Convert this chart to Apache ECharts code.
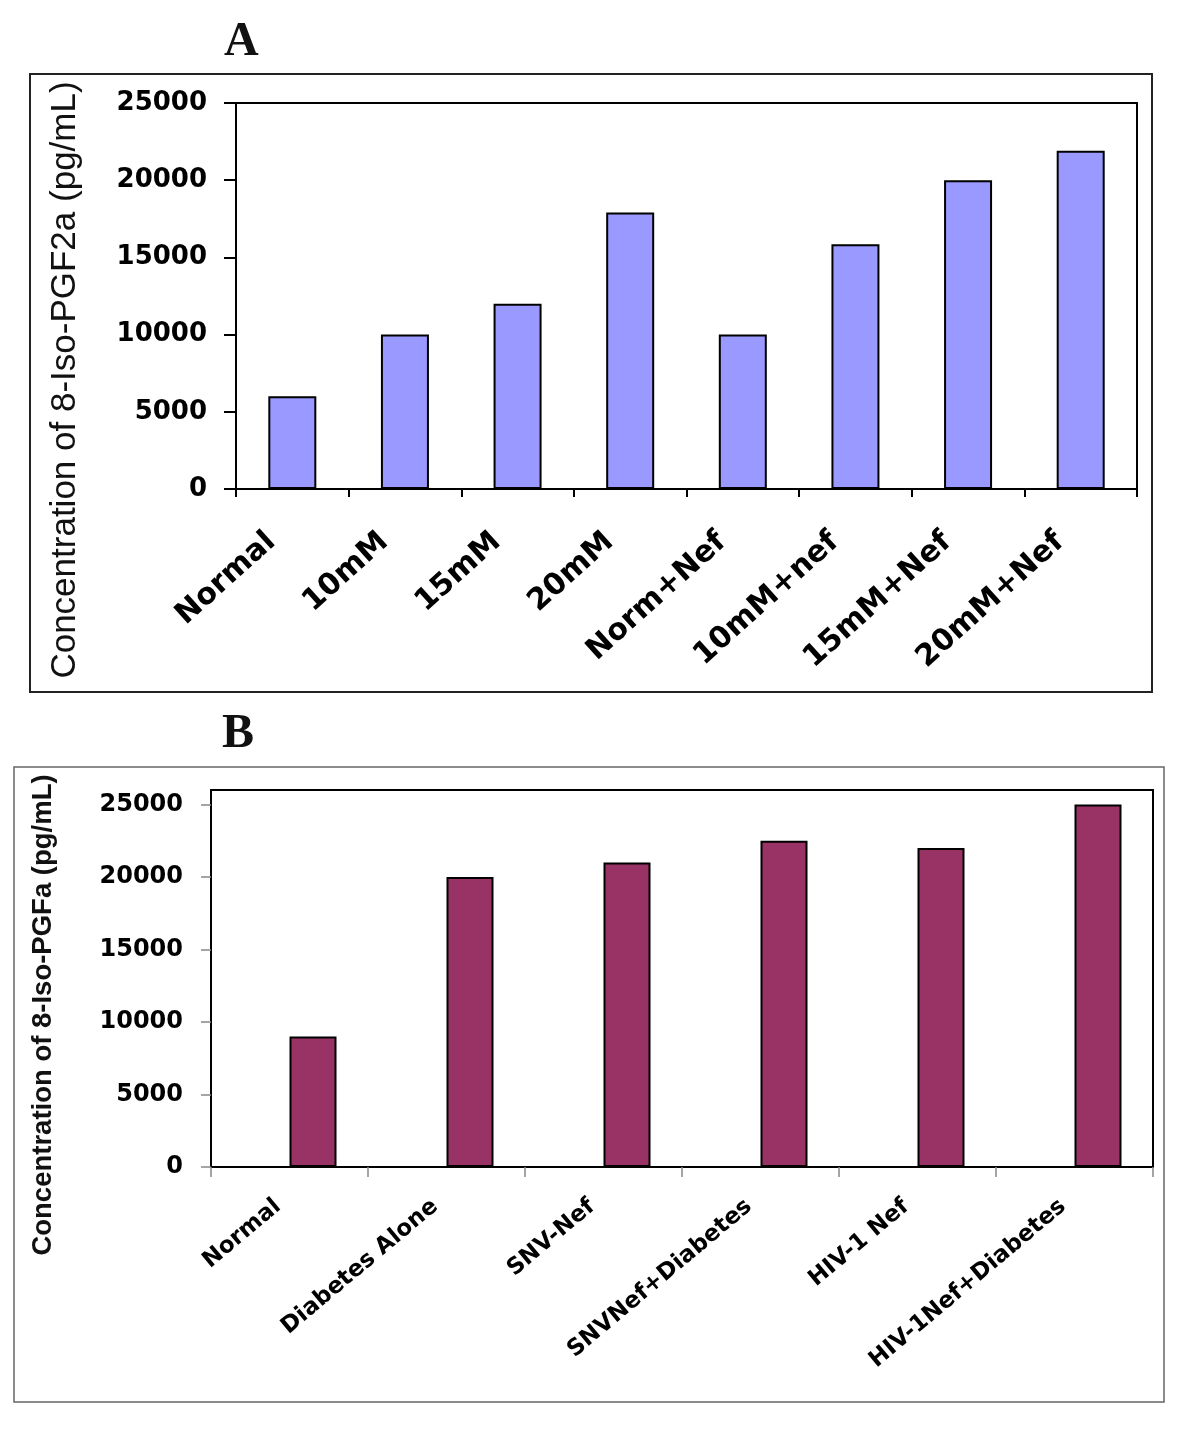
<!DOCTYPE html>
<html>
<head>
<meta charset="utf-8">
<script src="https://cdn.jsdelivr.net/npm/echarts@6/dist/echarts.min.js"></script>
<style>
html,body{margin:0;padding:0;background:#fff;}
#main{width:1200px;height:1432px;}
</style>
</head>
<body>
<div id="main"></div>
<script>
// ---- Panel A data ----
const categoriesA = ['Normal', '10mM', '15mM', '20mM', 'Norm+Nef', '10mM+nef', '15mM+Nef', '20mM+Nef'];
const valuesA = [6000, 10000, 12000, 17900, 10000, 15850, 20000, 21900];
const yTicksA = [0, 5000, 10000, 15000, 20000, 25000];
const yTitleA = 'Concentration of 8-Iso-PGF2a (pg/mL)';

// ---- Panel B data ----
const categoriesB = ['Normal', 'Diabetes Alone', 'SNV-Nef', 'SNVNef+Diabetes', 'HIV-1 Nef', 'HIV-1Nef+Diabetes'];
const blankSeriesB = [null, null, null, null, null, null]; // empty first series of the original clustered chart
const valuesB = [9000, 20000, 21000, 22500, 22000, 25000];
const yTicksB = [0, 5000, 10000, 15000, 20000, 25000];
const yTitleB = 'Concentration of 8-Iso-PGFa (pg/mL)';

const plain = v => String(v);

const chart = echarts.init(document.getElementById('main'), null, {renderer: 'canvas'});

const option = {
  animation: false,
  backgroundColor: '#ffffff',
  title: [
    {text: 'A', left: 224, top: 19, padding: 0,
     textStyle: {fontFamily: 'Liberation Serif', fontWeight: 'bold', fontSize: 48, color: '#111'}},
    {text: 'B', left: 222, top: 711, padding: 0,
     textStyle: {fontFamily: 'Liberation Serif', fontWeight: 'bold', fontSize: 48, color: '#111'}}
  ],
  graphic: [
    {type: 'rect', shape: {x: 30, y: 74, width: 1122, height: 618},
     style: {fill: 'none', stroke: '#222', lineWidth: 2}, silent: true},
    {type: 'rect', shape: {x: 14, y: 767, width: 1150, height: 635},
     style: {fill: 'none', stroke: '#666', lineWidth: 1.5}, silent: true},
    {type: 'text', x: 65, y: 380, rotation: Math.PI / 2,
     style: {text: yTitleA, fontFamily: 'Liberation Sans', fontSize: 35, fill: '#111',
             align: 'center', verticalAlign: 'middle'}},
    {type: 'text', x: 43, y: 1015, rotation: Math.PI / 2,
     style: {text: yTitleB, fontFamily: 'Liberation Sans', fontWeight: 'bold', fontSize: 27.5, fill: '#111',
             align: 'center', verticalAlign: 'middle'}}
  ],
  grid: [
    {left: 236, top: 103, right: 63, bottom: 943, show: true, borderColor: '#000', borderWidth: 2,
     backgroundColor: 'transparent', containLabel: false},
    {left: 211, top: 790, right: 47, bottom: 265, show: true, borderColor: '#000', borderWidth: 2,
     backgroundColor: 'transparent', containLabel: false}
  ],
  xAxis: [
    {type: 'category', gridIndex: 0, data: categoriesA, boundaryGap: true,
     axisLine: {show: true, lineStyle: {color: '#000', width: 2}},
     axisTick: {show: true, alignWithLabel: false, inside: false, length: 8, lineStyle: {color: '#000', width: 2}},
     axisLabel: {interval: 0, rotate: 42, margin: 30, padding: [0, 28, 0, 0], color: '#000',
                 fontFamily: 'DejaVu Sans', fontWeight: 'bold', fontSize: 30},
     splitLine: {show: false}},
    {type: 'category', gridIndex: 1, data: categoriesB, boundaryGap: true,
     axisLine: {show: true, lineStyle: {color: '#000', width: 2}},
     axisTick: {show: true, alignWithLabel: false, inside: false, length: 10, lineStyle: {color: '#888', width: 1.5}},
     axisLabel: {interval: 0, rotate: 40, margin: 27, padding: [0, 15, 0, 0], color: '#000',
                 fontFamily: 'DejaVu Sans', fontWeight: 'bold', fontSize: 23},
     splitLine: {show: false}}
  ],
  yAxis: [
    {type: 'value', gridIndex: 0, min: 0, max: 25000, interval: 5000,
     axisLine: {show: true, lineStyle: {color: '#000', width: 2}},
     axisTick: {show: true, inside: false, length: 12, lineStyle: {color: '#000', width: 2}, customValues: yTicksA},
     axisLabel: {margin: 29, color: '#000', fontFamily: 'DejaVu Sans', fontWeight: 'bold', fontSize: 26,
                 customValues: yTicksA, formatter: plain},
     splitLine: {show: false}},
    {type: 'value', gridIndex: 1, min: 0, max: 26000, interval: 5000,
     axisLine: {show: true, lineStyle: {color: '#000', width: 2}},
     axisTick: {show: true, inside: false, length: 10, lineStyle: {color: '#888', width: 1.5}, customValues: yTicksB},
     axisLabel: {margin: 28, color: '#000', fontFamily: 'DejaVu Sans', fontWeight: 'bold', fontSize: 24,
                 customValues: yTicksB, formatter: plain},
     splitLine: {show: false}}
  ],
  series: [
    {type: 'bar', name: 'A', xAxisIndex: 0, yAxisIndex: 0, data: valuesA, barWidth: 48,
     itemStyle: {color: '#9999ff', borderColor: '#000', borderWidth: 2}},
    {type: 'bar', name: 'blank', xAxisIndex: 1, yAxisIndex: 1, data: blankSeriesB, barWidth: 47, barGap: '0%',
     itemStyle: {color: '#993366', borderColor: '#000', borderWidth: 2}},
    {type: 'bar', name: 'B', xAxisIndex: 1, yAxisIndex: 1, data: valuesB, barWidth: 47, barGap: '0%',
     itemStyle: {color: '#993366', borderColor: '#000', borderWidth: 2}}
  ]
};
chart.setOption(option);
</script>
</body>
</html>
